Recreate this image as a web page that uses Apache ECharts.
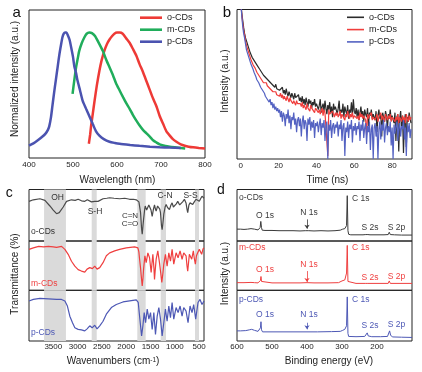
<!DOCTYPE html>
<html>
<head>
<meta charset="utf-8">
<script src="https://cdn.jsdelivr.net/npm/echarts@6/dist/echarts.min.js"></script>
<style>
  html, body { margin: 0; padding: 0; background: #fff; }
  #chart { width: 422px; height: 372px; }
</style>
</head>
<body>
<div id="chart"></div>
<script>
// ---- a: PL spectra, [wavelength nm, normalized intensity]
const plO = [[536,0.04],[539,0.12],[541,0.19],[545,0.30],[549,0.41],[554,0.54],[560,0.67],[565,0.76],[571,0.84],[577,0.90],[583,0.94],[589,0.97],[594,0.99],[600,1.0],[606,1.0],[613,0.99],[621,0.95],[629,0.91],[636,0.86],[644,0.80],[651,0.73],[659,0.66],[667,0.58],[674,0.51],[682,0.43],[690,0.36],[697,0.28],[705,0.21],[712,0.15],[720,0.11],[727,0.08],[735,0.057],[745,0.035],[754,0.023],[763,0.015],[773,0.009],[786,0.004],[800,0.0]]
const plM = [[499,0.47],[503,0.59],[507,0.70],[511,0.78],[514,0.84],[520,0.91],[526,0.96],[531,0.99],[537,1.0],[543,0.995],[550,0.97],[560,0.90],[568,0.84],[575,0.77],[583,0.70],[591,0.63],[598,0.56],[606,0.50],[614,0.44],[621,0.39],[629,0.34],[636,0.29],[644,0.24],[651,0.20],[659,0.16],[667,0.13],[675,0.10],[682,0.07],[690,0.05],[697,0.035],[710,0.02],[720,0.014],[735,0.008],[745,0.004],[755,0.0]]
const plP = [[400,0.023],[410,0.043],[420,0.07],[430,0.10],[438,0.13],[443,0.16],[446,0.19],[450,0.27],[453,0.36],[457,0.48],[461,0.59],[465,0.70],[469,0.81],[473,0.90],[476,0.96],[479,0.99],[482,1.0],[485,1.0],[488,0.98],[492,0.94],[496,0.87],[500,0.79],[503,0.71],[507,0.65],[510,0.59],[516,0.50],[522,0.41],[530,0.34],[537,0.28],[545,0.21],[552,0.15],[560,0.11],[570,0.08],[583,0.057],[595,0.047],[606,0.04],[630,0.03],[651,0.022],[675,0.015],[697,0.01],[720,0.007],[745,0.004]]
const plTicks = [400, 500, 600, 700, 800]

// ---- b: decay traces, one reading every decayStep ns from 0
const decayStep = 0.5
const decayO = [105,98,93,88,84,81,79,77,75,73,71,70,68,67,66,65,64,63,62,61,60,
  59,58,58,56,57,55,54,55,53,52,53,51,50,51,49,48,50,47,48,47,
  46,47,45,48,44,46,43,47,44,42,45,43,41,44,42,40,44,41,42,40,
  43,39,41,38,42,37,40,36,41,38,35,40,37,39,34,38,36,40,35,37,
  38,33,36,40,31,35,37,32,39,34,30,36,33,38,31,35,28,37,33,35,
  36,30,34,39,29,33,31,37,28,35,32,30,36,27,33,31,38,29,40,32,
  30,34,28,33,26,31,35,29,32,25,33,30,28,34,22,31,29,33,27,30,
  31,26,32,18,29,33,27,30,15,31,28,25,32,29,20,30,27,33,26,29,
  29,24,31,12,28,30,5,27,32,22,29,4,26,30,8,28,25,31,27,24]
const decayM = [105,97,91,86,83,79,76,74,73,70,68,66,65,63,62,61,60,58,57,56,55,
  54,55,53,51,52,50,51,49,48,49,47,46,47,45,46,44,45,43,44,43,
  42,44,41,43,40,42,41,39,42,40,38,41,39,40,37,39,38,36,39,37,
  38,36,37,35,38,34,36,35,33,37,34,35,32,36,34,33,35,31,34,33,
  34,31,33,30,32,34,29,33,31,30,32,2,33,30,31,29,32,30,28,31,
  29,31,28,30,32,27,30,29,31,26,30,28,32,29,27,30,28,31,27,29,
  28,30,27,29,26,31,28,30,27,29,28,26,16,30,27,29,28,31,26,28,
  29,26,28,30,25,28,27,31,26,29,27,25,30,28,26,29,27,30,25,28,
  27,29,25,28,26,30,24,28,27,25,29,26,28,24,30,27,25,29,26,28]
const decayP = [105,96,89,84,81,77,73,71,70,67,65,63,62,60,58,57,55,53,52,51,50,
  48,49,46,45,44,42,43,40,41,38,40,36,38,34,37,33,35,32,34,31,
  33,28,32,25,31,29,22,30,27,33,24,29,20,28,26,31,23,27,18,26,
  28,22,27,15,25,29,20,26,24,12,27,23,28,19,25,21,26,14,24,22,
  25,18,23,27,16,24,21,26,12,22,25,0,23,19,26,14,22,24,17,23,
  21,25,15,23,20,26,12,22,24,2,21,18,25,14,23,20,26,11,22,19,
  24,16,22,20,25,12,23,19,26,14,21,24,10,22,18,25,6,20,23,0,
  21,24,15,22,0,20,25,13,23,19,26,11,21,24,16,22,18,25,9,21,
  0,23,17,22,25,12,21,24,15,22,20,26,13,21,2,23,18,24,14,20]
const decayTicks = [0, 20, 40, 60, 80]

// ---- c: FTIR, [wavenumber cm-1, transmittance a.u.]
const ftirO = [[4000,77],[3911,80],[3775,82],[3672,79],[3570,68],[3501,60],[3433,53],[3400,52],[3378,55],[3296,66],[3228,77],[3126,80],[3050,79],[2989,81],[2920,78],[2853,77],[2800,80],[2764,79],[2716,76],[2680,78],[2648,77],[2613,74],[2580,77],[2545,78],[2477,82],[2400,83],[2340,84],[2250,83],[2135,82],[2030,83],[1930,81],[1850,81],[1794,80],[1760,79],[1739,76],[1705,55],[1685,25],[1671,13],[1655,30],[1643,42],[1620,62],[1609,68],[1580,60],[1555,58],[1535,70],[1520,71],[1490,60],[1466,48],[1440,62],[1418,70],[1400,62],[1384,58],[1355,68],[1329,71],[1310,62],[1295,55],[1275,30],[1261,22],[1245,35],[1227,52],[1200,66],[1179,71],[1150,65],[1111,61],[1080,70],[1056,74],[1030,66],[1008,63],[970,72],[940,77],[900,70],[872,68],[840,76],[803,81],[770,74],[750,62],[735,55],[710,70],[687,74],[660,71],[632,71],[600,76],[564,81],[530,79],[496,77],[470,82],[441,87],[420,84],[400,83]]
const ftirM = [[4000,83],[3911,86],[3800,89],[3700,88],[3600,89],[3500,88],[3433,87],[3330,89],[3262,83],[3194,73],[3126,59],[3057,49],[2989,42],[2921,39],[2853,37],[2805,43],[2750,46],[2695,44],[2648,49],[2600,43],[2545,46],[2477,56],[2409,70],[2340,76],[2238,80],[2135,83],[1999,86],[1828,88],[1760,86],[1740,78],[1725,63],[1705,45],[1691,29],[1671,9],[1655,25],[1643,43],[1616,70],[1589,56],[1555,76],[1520,66],[1487,36],[1470,55],[1452,73],[1430,45],[1418,22],[1400,45],[1384,63],[1350,80],[1316,56],[1290,35],[1268,16],[1245,35],[1227,53],[1193,73],[1159,49],[1124,76],[1090,59],[1056,83],[1022,53],[974,76],[933,66],[892,80],[851,63],[817,76],[769,70],[750,50],[735,39],[701,73],[653,63],[619,80],[600,65],[578,53],[555,70],[530,76],[496,83],[448,73],[420,84],[400,86]]
const ftirP = [[4000,79],[3911,82],[3775,84],[3600,83],[3433,82],[3330,82],[3262,79],[3210,69],[3160,49],[3105,36],[3057,26],[2989,23],[2921,22],[2853,20],[2805,24],[2750,30],[2702,26],[2648,31],[2600,24],[2545,30],[2477,39],[2409,53],[2306,66],[2204,72],[2067,77],[1930,79],[1794,81],[1753,76],[1719,43],[1684,10],[1657,30],[1630,56],[1602,36],[1568,63],[1534,43],[1500,56],[1466,23],[1432,56],[1398,13],[1363,49],[1329,66],[1295,43],[1261,10],[1227,36],[1193,63],[1159,39],[1124,69],[1090,46],[1056,76],[1022,43],[974,66],[933,56],[892,69],[851,49],[817,66],[769,59],[728,36],[687,69],[646,56],[612,72],[571,43],[523,76],[482,82],[441,72],[400,79]]
const ftirBands = [[3690, 3240], [2710, 2607], [1772, 1600], [1291, 1182], [585, 503]]
const ftirTicks = [3500, 3000, 2500, 2000, 1500, 1000, 500]

// ---- d: XPS survey, [binding energy eV, intensity a.u.]
const xpsO = [[600,23],[590,23],[580,22.5],[570,23],[560,24],[550,23],[545,22],[540,21.5],[536,22],[534,26],[532,38],[530,26],[528,21],[520,20.5],[500,20.5],[480,20],[460,20],[440,20],[420,19.5],[405,20],[400,20.5],[395,20],[380,19.5],[360,20],[340,19.5],[320,20],[305,21],[298,23],[292,24],[289,22],[287,30],[285,88],[283,20],[281,13],[275,12],[260,12],[240,12],[232,12.5],[229,15],[226,12.5],[220,12],[200,12],[180,12],[168,12.5],[165,17],[162,12.5],[150,12],[130,11.5],[100,11.5]]
const xpsM = [[600,15.5],[580,15.5],[560,16],[550,15.5],[540,15],[535,15.5],[533,20],[531.5,28],[530,18],[527,15],[500,15],[460,15],[420,15],[400,15.5],[380,15],[340,15],[310,15.5],[300,19],[292,21],[289,19],[287,35],[285,91],[283,18],[281,14],[260,14],[232,14],[229,17],[226,14],[200,14],[168,14],[165,19],[162,14],[140,14],[100,14]]
const xpsP = [[600,20],[590,20],[575,20.5],[565,22],[558,23],[550,21],[540,19],[535,19.5],[533,26],[531.5,38],[530,22],[527,18],[500,18],[460,18],[420,18],[400,18],[370,18],[330,18.5],[305,19],[298,21],[292,23],[289,21],[287,30],[285,87],[283,15],[281,9],[260,8.5],[235,9],[231,11],[228,16],[225,10],[215,8.5],[190,8.5],[170,9],[167,12],[164,20],[161,11],[155,8],[130,7.5],[100,7]]
const n1sArrows = [[42, 24], [39, 17], [36, 23]] // [from, to] intensity at 400 eV
const xpsTicks = [600, 500, 400, 300, 200]

const FONT = '"Liberation Sans", Arial, sans-serif'
const RED = '#ee3a36'
const GREEN = '#20ad5b'
const BLUE = '#4b53b0'
const DARK = '#3a3a3a'
const INK = '#222'

const chart = echarts.init(document.getElementById('chart'))

const frame = { show: true, borderColor: INK, borderWidth: 1, backgroundColor: 'transparent' }
const tickLabel = { fontSize: 8, color: INK, fontFamily: FONT, margin: 3, formatter: v => String(v) }
const bare = { axisLine: { show: false }, axisTick: { show: false }, splitLine: { show: false } }

function hiddenX(grid, min, max, inverse) {
  return { gridIndex: grid, type: 'value', show: false, min, max, inverse }
}
function hiddenY(grid, min, max) {
  return { gridIndex: grid, type: 'value', show: false, min, max }
}
function line(name, grid, data, color, width, extra) {
  return Object.assign({
    name, type: 'line', xAxisIndex: grid, yAxisIndex: grid, data, z: 3,
    symbol: 'none', showSymbol: false, animation: false,
    lineStyle: { color, width }, itemStyle: { color }
  }, extra || {})
}
function txt(x, y, text, color, size, align, rotation) {
  return {
    type: 'text', x, y, z: 100, rotation: rotation || 0, silent: true,
    style: {
      text, fill: color || INK, fontSize: size || 9, fontFamily: FONT,
      align: align || 'center', verticalAlign: 'middle',
      textAlign: align || 'center', textVerticalAlign: 'middle'
    }
  }
}

const decaySeries = arr => arr.map((v, i) => [i * decayStep, v])

// grey absorption bands, kept on their own series underneath the spectra
function bands(grid) {
  return {
    type: 'line', xAxisIndex: grid, yAxisIndex: grid, data: [], z: 1, silent: true,
    markArea: {
      silent: true,
      itemStyle: { color: '#dadada' },
      data: ftirBands.map(b => [{ xAxis: b[0] }, { xAxis: b[1] }])
    }
  }
}
function arrow(i, color) {
  return {
    silent: true, symbol: ['none', 'arrow'], symbolSize: 4,
    lineStyle: { color, width: 0.8, type: 'solid' },
    label: { show: false },
    data: [[{ coord: [400, n1sArrows[i][0]] }, { coord: [400, n1sArrows[i][1]] }]]
  }
}
const legendBase = {
  orient: 'vertical', icon: 'rect', selectedMode: false, padding: 0,
  textStyle: { fontSize: 9, color: INK, fontFamily: FONT, lineHeight: 11 }
}

const option = {
  animation: false,
  textStyle: { fontFamily: FONT },
  grid: [
    Object.assign({ left: 29, top: 10, width: 176, height: 148 }, frame),
    Object.assign({ left: 237, top: 9.5, width: 175, height: 149.5 }, frame),
    Object.assign({ left: 29, top: 189.5, width: 175, height: 51.5 }, frame),
    Object.assign({ left: 29, top: 241, width: 175, height: 49.3 }, frame),
    Object.assign({ left: 29, top: 290.3, width: 175, height: 50.7 }, frame),
    Object.assign({ left: 237, top: 189.5, width: 175, height: 51.5 }, frame),
    Object.assign({ left: 237, top: 241, width: 175, height: 49.3 }, frame),
    Object.assign({ left: 237, top: 290.3, width: 175, height: 50.7 }, frame)
  ],
  xAxis: [
    Object.assign({ gridIndex: 0, type: 'value', min: 400, max: 800, interval: 100,
      axisLabel: Object.assign({ customValues: plTicks }, tickLabel) }, bare),
    Object.assign({ gridIndex: 1, type: 'value', min: -2, max: 90.5,
      axisLabel: Object.assign({ customValues: decayTicks }, tickLabel) }, bare),
    hiddenX(2, 400, 4000, true),
    hiddenX(3, 400, 4000, true),
    Object.assign({ gridIndex: 4, type: 'value', min: 400, max: 4000, inverse: true,
      axisLabel: Object.assign({}, tickLabel, { customValues: ftirTicks, margin: 2 }) }, bare),
    hiddenX(5, 100, 600, true),
    hiddenX(6, 100, 600, true),
    Object.assign({ gridIndex: 7, type: 'value', min: 100, max: 600, inverse: true,
      axisLabel: Object.assign({}, tickLabel, { customValues: xpsTicks, margin: 2 }) }, bare)
  ],
  yAxis: [
    hiddenY(0, -0.083, 1.195),
    hiddenY(1, 0, 100),
    hiddenY(2, 0, 100), hiddenY(3, 0, 100), hiddenY(4, 0, 100),
    hiddenY(5, 0, 100), hiddenY(6, 0, 100), hiddenY(7, 0, 100)
  ],
  legend: [
    Object.assign({
      data: ['o-CDs', 'm-CDs', 'p-CDs'], left: 140, top: 12.2,
      itemWidth: 22, itemHeight: 2.6, itemGap: 1
    }, legendBase),
    Object.assign({
      data: ['b:o-CDs', 'b:m-CDs', 'b:p-CDs'], left: 347, top: 11.8,
      itemWidth: 17, itemHeight: 1.6, itemGap: 1.3,
      formatter: n => n.slice(2)
    }, legendBase)
  ],
  series: [
    line('o-CDs', 0, plO, RED, 2.5, { smooth: 0.2 }),
    line('m-CDs', 0, plM, GREEN, 2.5, { smooth: 0.2 }),
    line('p-CDs', 0, plP, BLUE, 2.5, { smooth: 0.2 }),

    line('b:o-CDs', 1, decaySeries(decayO), '#2b2b2b', 1.2),
    line('b:m-CDs', 1, decaySeries(decayM), '#f03e3c', 1.2),
    line('b:p-CDs', 1, decaySeries(decayP), '#5462c2', 1.2),

    bands(2), bands(3), bands(4),
    line('c:o-CDs', 2, ftirO, '#4a4a4a', 1.2),
    line('c:m-CDs', 3, ftirM, '#ef3f3f', 1.2),
    line('c:p-CDs', 4, ftirP, '#4d58b5', 1.2),

    line('d:o-CDs', 5, xpsO, DARK, 1, { markLine: arrow(0, DARK) }),
    line('d:m-CDs', 6, xpsM, '#ef3f3f', 1, { markLine: arrow(1, '#ef3f3f') }),
    line('d:p-CDs', 7, xpsP, '#4d58b5', 1, { markLine: arrow(2, '#4d58b5') })
  ],
  graphic: [
    // panel letters
    txt(16.7, 12.5, 'a', '#111', 15),
    txt(227, 13, 'b', '#111', 15),
    txt(9.3, 193, 'c', '#111', 14),
    txt(221, 190.5, 'd', '#111', 14),
    // axis titles
    txt(15, 79, 'Normalized intensity (a.u.)', INK, 10, 'center', Math.PI / 2),
    txt(225, 81, 'Intensity (a.u.)', INK, 10, 'center', Math.PI / 2),
    txt(15, 274, 'Transmittance (%)', INK, 10, 'center', Math.PI / 2),
    txt(225, 273.5, 'Intensity (a.u.)', INK, 10, 'center', Math.PI / 2),
    txt(117.5, 180, 'Wavelength (nm)', INK, 10),
    txt(327.5, 180, 'Time (ns)', INK, 10),
    {
      type: 'text', x: 113, y: 361.5, z: 100, silent: true,
      style: {
        text: 'Wavenumbers (cm{sup|-1})', fill: INK, fontSize: 10, fontFamily: FONT,
        align: 'center', verticalAlign: 'middle', textAlign: 'center', textVerticalAlign: 'middle',
        rich: { sup: { fontSize: 6.5, fontFamily: FONT, fill: INK, verticalAlign: 'top' } }
      }
    },
    txt(329, 361.5, 'Binding energy (eV)', INK, 10),
    // FTIR annotations
    txt(57.5, 198, 'OH', '#333', 8.5),
    txt(95, 212, 'S-H', '#333', 8.5),
    txt(130, 215.5, 'C=N', '#333', 8),
    txt(130, 224, 'C=O', '#333', 8),
    txt(165, 196, 'C-N', '#333', 8.5),
    txt(190.5, 196, 'S-S', '#333', 8.5),
    txt(31, 231.5, 'o-CDs', '#333', 8.5, 'left'),
    txt(31, 284, 'm-CDs', '#ef3f3f', 8.5, 'left'),
    txt(31, 333, 'p-CDs', '#4d58b5', 8.5, 'left'),
    // XPS annotations
    txt(239, 197.5, 'o-CDs', DARK, 8.5, 'left'),
    txt(265, 216, 'O 1s', DARK, 8.5),
    txt(309, 213, 'N 1s', DARK, 8.5),
    txt(352, 198.7, 'C 1s', DARK, 8.5, 'left'),
    txt(370, 228, 'S 2s', DARK, 8.5),
    txt(396.5, 228, 'S 2p', DARK, 8.5),
    txt(239, 247.7, 'm-CDs', '#ef3f3f', 8.5, 'left'),
    txt(265, 269.3, 'O 1s', '#ef3f3f', 8.5),
    txt(309, 264.3, 'N 1s', '#ef3f3f', 8.5),
    txt(352, 247.7, 'C 1s', '#ef3f3f', 8.5, 'left'),
    txt(370, 278, 'S 2s', '#ef3f3f', 8.5),
    txt(396.5, 277, 'S 2p', '#ef3f3f', 8.5),
    txt(239, 300, 'p-CDs', '#4d58b5', 8.5, 'left'),
    txt(265, 315, 'O 1s', '#4d58b5', 8.5),
    txt(309, 315, 'N 1s', '#4d58b5', 8.5),
    txt(352, 299.3, 'C 1s', '#4d58b5', 8.5, 'left'),
    txt(370, 326, 'S 2s', '#4d58b5', 8.5),
    txt(396.5, 325, 'S 2p', '#4d58b5', 8.5)
  ]
}

chart.setOption(option)
</script>
</body>
</html>
